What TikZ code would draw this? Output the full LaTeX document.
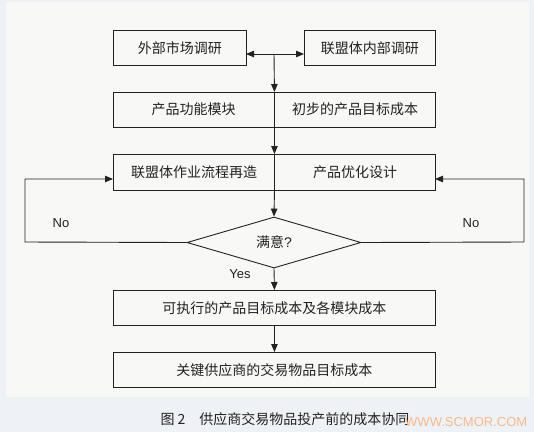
\documentclass[tikz,border=0pt]{standalone}
\usepackage{fontspec}
\newfontfamily\cjk{Noto Sans CJK SC}
\newfontfamily\lat{Liberation Sans}
\usetikzlibrary{arrows.meta,shapes.geometric}
\definecolor{ink}{HTML}{222222}
\definecolor{bandbg}{HTML}{EEF2F6}
\definecolor{panelbg}{HTML}{F8F8F7}
\definecolor{wm}{HTML}{F6B98C}
\tikzset{
  boxnode/.style={draw=ink, line width=0.9pt, rectangle, inner sep=0pt, anchor=north west},
  txt/.style={font=\cjk\fontsize{14}{16}\selectfont, text=ink, inner sep=0pt},
  lattxt/.style={font=\lat\fontsize{13}{15}\selectfont, text=ink, inner sep=0pt},
  conn/.style={draw=ink, line width=0.9pt},
  arr/.style={conn, -{Triangle[length=8pt,width=6.5pt]}},
  darr/.style={conn, {Triangle[length=8pt,width=6.5pt]}-{Triangle[length=8pt,width=6.5pt]}},
}
\begin{document}
\begin{tikzpicture}[x=1pt,y=-1pt]
\fill[bandbg] (0,0) rectangle (534,432);
\useasboundingbox (0,0) rectangle (534,432);
\fill[panelbg] (6,2) rectangle (529,397);

% boxes
\node[boxnode, minimum width=133pt, minimum height=35pt] (b1) at (113,30) {};
\node[txt] at (b1.center) {外部市场调研};
\node[boxnode, minimum width=131pt, minimum height=35pt] (b2) at (304,30) {};
\node[txt] at (b2.center) {联盟体内部调研};

\node[boxnode, minimum width=322pt, minimum height=35pt] (b3) at (113,92) {};
\node[txt] (b3l) at (193.5,109.5) {产品功能模块};
\node[txt] (b3r) at (355,109.5) {初步的产品目标成本};

\node[boxnode, minimum width=322pt, minimum height=36pt] (b4) at (113,154) {};
\node[txt] (b4l) at (194,172) {联盟体作业流程再造};
\node[txt] (b4r) at (355,172) {产品优化设计};

\node[draw=ink, line width=0.9pt, shape=diamond, minimum width=174pt, minimum height=51pt, inner sep=0pt] (d) at (274,242.5) {};
\node[txt] at (d.center) {满意\lat ?};

\node[boxnode, minimum width=322pt, minimum height=35pt] (b5) at (113,290) {};
\node[txt] at (b5.center) {可执行的产品目标成本及各模块成本};
\node[boxnode, minimum width=322pt, minimum height=35pt] (b6) at (113,352) {};
\node[txt] at (b6.center) {关键供应商的交易物品目标成本};

% coordinates
\coordinate (j) at (274,54);
\coordinate (b1r) at (246,54);
\coordinate (b2l) at (304,54);
\coordinate (ll1) at (25,242);
\coordinate (ll2) at (25,179);
\coordinate (lin) at (113,179);
\coordinate (rl1) at (524,242);
\coordinate (rl2) at (524,179);
\coordinate (rin) at (435,179);

% dividers
\draw[conn] (b3.north) -- (b3.south);
\draw[conn] (b4.north) -- (b4.south);

% connectors
\draw[darr] (b1r) -- (b2l);
\draw[arr] (j) -- (b3.north);
\draw[arr] (b3.south) -- (b4.north);
\draw[arr] (b4.south) -- (d.north);
\draw[arr] (d.south) -- (b5.north);
\draw[arr] (b5.south) -- (b6.north);
\draw[arr] (d.west) -- (ll1) -- (ll2) -- (lin);
\draw[arr] (d.east) -- (rl1) -- (rl2) -- (rin);

% labels
\node[lattxt] at (61,223) {No};
\node[lattxt] at (471,223) {No};
\node[lattxt] at (240,274) {Yes};

% caption
\node[txt, font=\cjk\fontsize{14}{16}\selectfont] (cap) at (285,419) {图 2\hspace{1em}供应商交易物品投产前的成本协同};
\node[font=\lat\fontsize{13}{15}\selectfont, text=wm, inner sep=0pt, anchor=west] (wmk) at (405,422) {WWW.SCMOR.COM};
\end{tikzpicture}
\end{document}
